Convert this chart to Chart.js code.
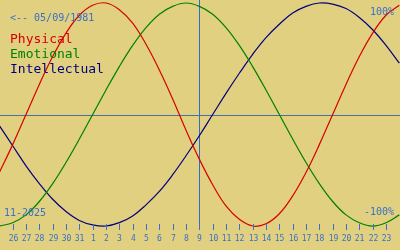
<!DOCTYPE html>
<html>
<head>
  <meta charset="utf-8">
  <title>Biorhythm</title>
  <script src="https://cdn.jsdelivr.net/npm/chart.js"></script>
  <style>
    body { margin: 0; background: #e0d080; }
    #wrap { width: 400px; height: 250px; }
  </style>
</head>
<body>
  <div id="wrap"><canvas id="bio" width="400" height="250"></canvas></div>

  <script>
    // day index -1 .. 29 (first and last only reach the edges)
    const days = [25, 26, 27, 28, 29, 30, 31, 1, 2, 3, 4, 5, 6, 7, 8, 9, 10,
                  11, 12, 13, 14, 15, 16, 17, 18, 19, 20, 21, 22, 23, 24];
    const tickDays = days.slice(1, 30);
    const todayIndex = 14;

    const physical = [-52, -27, 0, 27, 52, 73, 89, 98, 100, 94, 82, 63, 40, 14, -14, -40,
                      -63, -82, -94, -100, -98, -89, -73, -52, -27, 0, 27, 52, 73, 89, 98];
    const emotional = [-100, -97, -90, -78, -62, -43, -22, 0, 22, 43, 62, 78, 90, 97, 100, 97,
                       90, 78, 62, 43, 22, 0, -22, -43, -62, -78, -90, -97, -100, -97, -90];
    const intellectual = [-10, -28, -46, -62, -76, -87, -95, -99, -100, -97, -91, -81, -69, -54, -37, -19,
                          0, 19, 37, 54, 69, 81, 91, 97, 100, 99, 95, 87, 76, 62, 46];

    const birthLabel = '<-- 05/09/1981';
    const monthLabel = '11-2025';

    const toPoints = (vals) => vals.map((v, i) => ({ x: i - 1, y: v }));

    const BLUE = '#3a70c8';
    const MONO = '"DejaVu Sans Mono", monospace';

    // background, reference lines, ticks and texts
    const overlay = {
      id: 'overlay',
      beforeDraw(chart) {
        const ctx = chart.ctx;
        ctx.save();
        ctx.fillStyle = '#e0d080';
        ctx.fillRect(0, 0, chart.width, chart.height);
        ctx.restore();
      },
      beforeDatasetsDraw(chart) {
        const ctx = chart.ctx;
        const xs = chart.scales.x, ys = chart.scales.y;
        ctx.save();
        // zero line
        const y0 = Math.round(ys.getPixelForValue(0));
        ctx.fillStyle = '#4a70a0';
        ctx.fillRect(0, y0, chart.width, 1);
        // today line
        const xt = Math.round(xs.getPixelForValue(todayIndex));
        ctx.fillStyle = '#2f6cd0';
        ctx.fillRect(xt, 0, 1, 230);
        ctx.restore();
      },
      afterDraw(chart) {
        const ctx = chart.ctx;
        const xs = chart.scales.x;
        ctx.save();
        // day ticks
        ctx.fillStyle = BLUE;
        ctx.font = '8px ' + MONO;
        ctx.textAlign = 'center';
        ctx.textBaseline = 'alphabetic';
        tickDays.forEach((d, i) => {
          const x = Math.round(xs.getPixelForValue(i));
          ctx.fillRect(x, 224, 1, 6);
          ctx.fillText(String(d), x + 0.5, 241);
        });

        ctx.font = '10px ' + MONO;
        ctx.textAlign = 'left';
        ctx.fillText(birthLabel, 10, 21);
        ctx.fillText(monthLabel, 4, 216);
        ctx.textAlign = 'right';
        ctx.fillText('100%', 394, 15);
        ctx.fillText('-100%', 394, 215);

        ctx.textAlign = 'left';
        ctx.font = '13px ' + MONO;
        chart.data.datasets.forEach((ds, i) => {
          ctx.fillStyle = ds.borderColor;
          ctx.fillText(ds.label, 10, 43 + i * 15);
        });
        ctx.restore();
      }
    };

    new Chart(document.getElementById('bio'), {
      type: 'line',
      data: {
        datasets: [
          { label: 'Physical', data: toPoints(physical), borderColor: '#d80000' },
          { label: 'Emotional', data: toPoints(emotional), borderColor: '#008000' },
          { label: 'Intellectual', data: toPoints(intellectual), borderColor: '#000080' }
        ]
      },
      options: {
        responsive: false,
        animation: false,
        devicePixelRatio: 1,
        layout: { padding: 0 },
        elements: {
          line: { borderWidth: 1.2, tension: 0.4, fill: false },
          point: { radius: 0 }
        },
        plugins: {
          legend: { display: false },
          tooltip: { enabled: false }
        },
        scales: {
          x: { type: 'linear', display: false, min: -0.95, max: 29.05 },
          y: { display: false, min: -121.5, max: 102.7 }
        }
      },
      plugins: [overlay]
    });
  </script>
</body>
</html>
